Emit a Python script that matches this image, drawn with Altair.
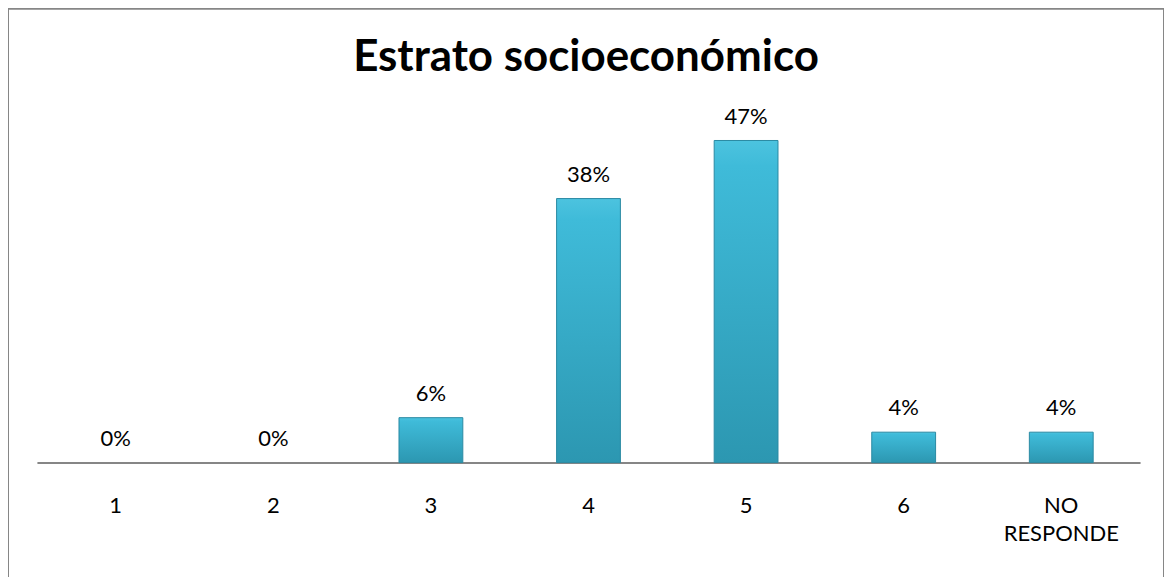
import altair as alt
import pandas as pd

categories = ["1", "2", "3", "4", "5", "6", "NO RESPONDE"]
values = [0.0, 0.0, 6.5, 38.2, 46.6, 4.4, 4.4]
labels = ["0%", "0%", "6%", "38%", "47%", "4%", "4%"]

df = pd.DataFrame({"cat": categories, "val": values, "lab": labels})

FONT = "Lato"
W, H = 1159, 600

x = alt.X("cat:N", sort=categories,
          scale=alt.Scale(range=[29, 1135], paddingInner=0.595, paddingOuter=0.2975),
          axis=alt.Axis(title=None, ticks=False, domainColor="#868686", domainWidth=2,
                        labelAngle=0, labelFont=FONT, labelFontSize=22, labelColor="#000000",
                        labelPadding=33, labelBaseline="top", labelLineHeight=28,
                        offset=-(H - 455),
                        labelExpr="datum.label == 'NO RESPONDE' ? ['NO', 'RESPONDE'] : datum.label"))
y = alt.Y("val:Q", scale=alt.Scale(domain=[0, 455 / 6.93], range=[455, 0]), axis=None)

grad = alt.LinearGradient(
    gradient="linear",
    stops=[alt.GradientStop(offset=0, color="#4cc3df"),
           alt.GradientStop(offset=0.08, color="#3fbbd9"),
           alt.GradientStop(offset=1, color="#2c97b1")],
    x1=0, x2=0, y1=0, y2=1)

bars = alt.Chart(df).mark_bar(color=grad, stroke="#2a8aa3", strokeWidth=1).encode(
    x=x, y=y,
    strokeOpacity=alt.condition("datum.val > 0", alt.value(1), alt.value(0)))

text = alt.Chart(df).mark_text(font=FONT, fontSize=22, baseline="alphabetic", dy=-17,
                               color="#000000").encode(x=x, y=y, text="lab:N")

chart = (bars + text).properties(
    width=W, height=H,
    title=alt.TitleParams("Estrato socioeconómico", font=FONT, fontSize=44, fontWeight="bold",
                          color="#000000", anchor="middle", baseline="alphabetic", dy=110),
    autosize=alt.AutoSizeParams(type="none"),
    padding={"left": 0, "top": 0, "right": 0, "bottom": 0},
).configure_view(stroke="#868686", strokeWidth=2)

chart.save("out.html", embed_options={"renderer": "svg", "actions": False})
